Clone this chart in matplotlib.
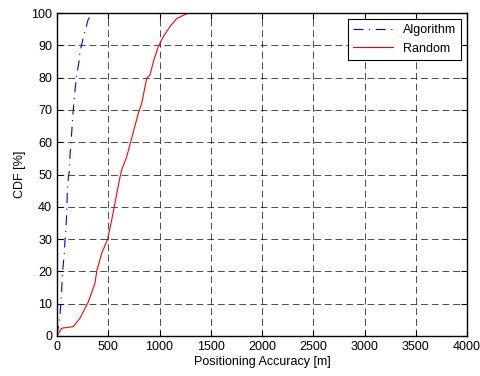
import matplotlib.pyplot as plt

plt.rcParams['font.family'] = ['Liberation Sans', 'DejaVu Sans']

# CDF curves (x in metres, y in percent)
algo_x = [0, 29, 45, 52, 71, 78, 85, 94, 100, 110, 120, 127, 143, 153, 159, 169, 192, 215, 224, 254, 302, 340, 4000]
algo_y = [0, 6.5, 13.7, 18.9, 25.6, 29.7, 32.3, 37.5, 44, 49, 51, 56, 62.8, 67.9, 70, 74, 80.8, 85, 88, 92, 97.8, 100, 100]

rand_x = [0, 45, 159, 224, 306, 371, 387, 436, 494, 534, 615, 631, 680, 728, 793, 826, 875, 907, 940, 988, 1037, 1102, 1168, 1280, 4000]
rand_y = [0, 2.4, 2.9, 5.5, 10.6, 16.4, 20, 25.6, 30, 36, 49.3, 51.4, 55.5, 61.2, 68.9, 72, 79.8, 80.8, 84.9, 89.6, 92.7, 95.8, 98.3, 100, 100]

xticks = list(range(0, 4001, 500))
yticks = list(range(0, 101, 10))

fig = plt.figure(figsize=(4.81, 3.76), dpi=100)
ax = fig.add_axes([0.1185, 0.1064, 0.8525, 0.859])

ax.plot(algo_x, algo_y, color='blue', linestyle=(0, (9, 5, 1, 5)), linewidth=0.8, label='Algorithm')
ax.plot(rand_x, rand_y, color='red', linestyle='-', linewidth=0.8, label='Random')

ax.set_xlim(0, 4000)
ax.set_ylim(0, 100)
ax.set_xticks(xticks)
ax.set_yticks(yticks)
ax.tick_params(direction='in', labelsize=9, length=4, top=True, right=True)
ax.grid(True, color='black', linestyle=(0, (7, 4)), linewidth=0.7, alpha=0.7)
for s in ax.spines.values():
    s.set_linewidth(1.0)

ax.set_xlabel('Positioning Accuracy [m]', fontsize=9, labelpad=2)
ax.set_ylabel('CDF [%]', fontsize=9, labelpad=4)

leg = ax.legend(loc='upper right', fontsize=9, fancybox=False, framealpha=1,
                edgecolor='black', borderaxespad=0.5, handlelength=3.2)
leg.get_frame().set_linewidth(0.8)

fig.savefig('out.png', dpi=100)
